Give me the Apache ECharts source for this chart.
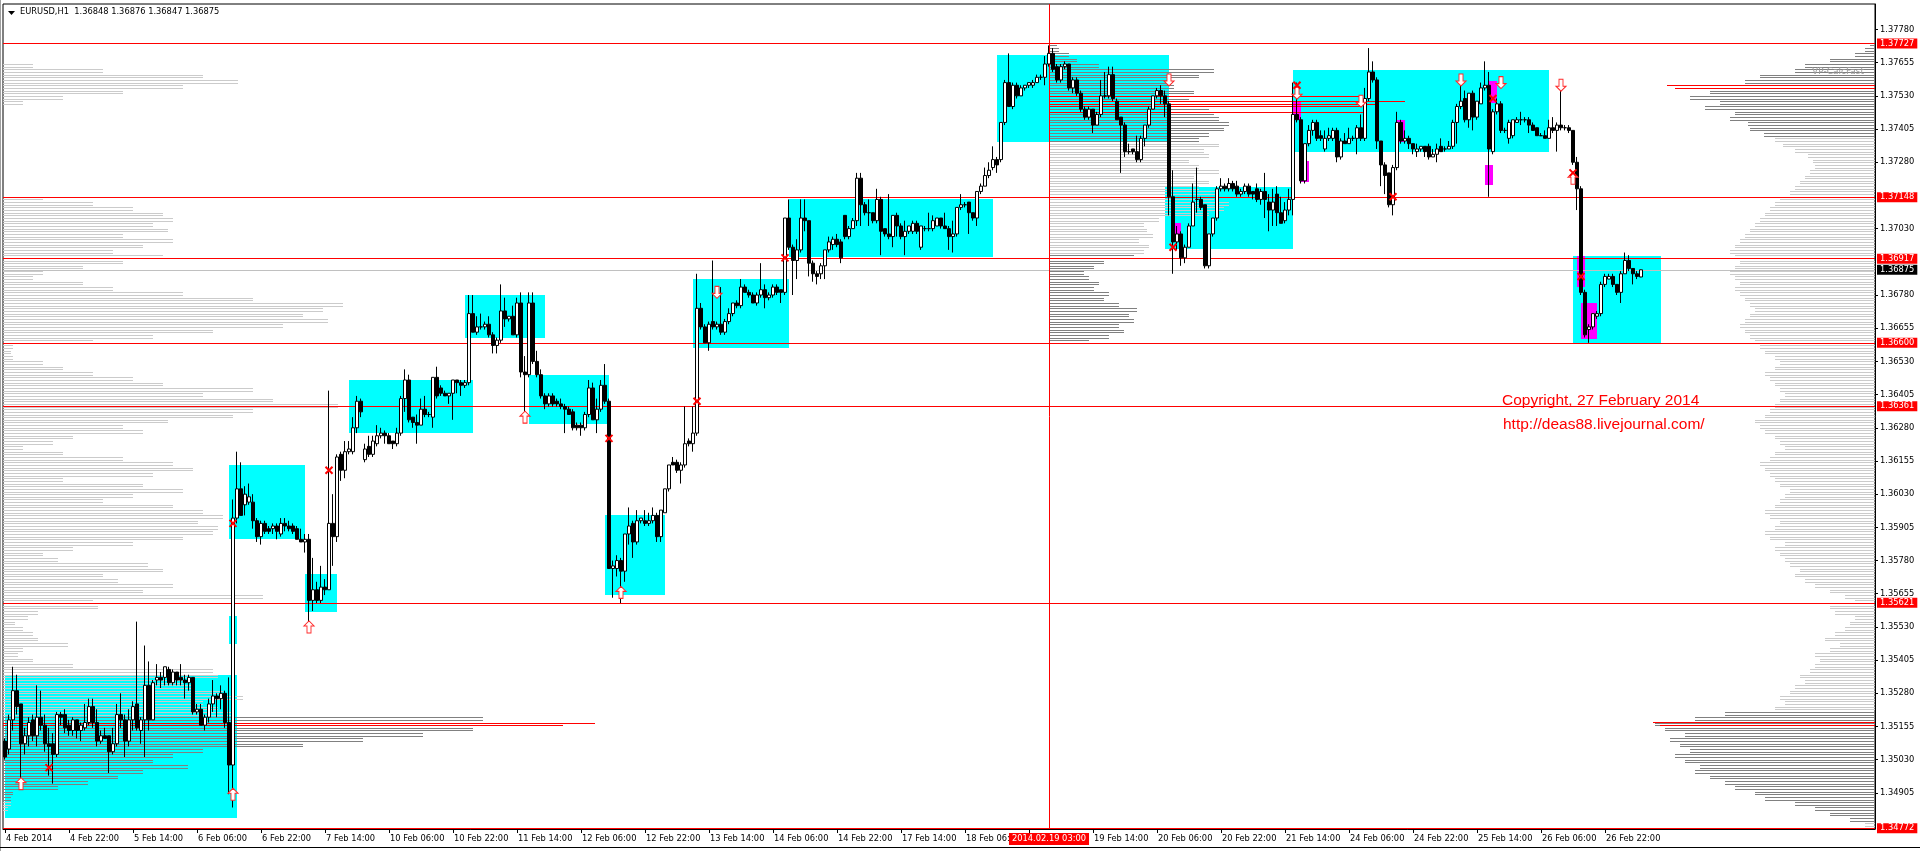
<!DOCTYPE html>
<html>
<head>
<meta charset="utf-8">
<title>EURUSD,H1</title>
<script src="https://cdn.jsdelivr.net/npm/echarts@6/dist/echarts.min.js"></script>
<style>
html,body{margin:0;padding:0;background:#fff;overflow:hidden}
#chart{width:1920px;height:851px}
</style>
</head>
<body>
<div id="chart"></div>
<script>
// ---- DATA (prices stored in pips above 1.30000) ----
const BASE = 1.3;
const PIP = 0.0001;

const barOpen = [
510,507,518,529,524,509,512,518,512,519, 516,509,509,505,520,520,516,514,518,514,
515,517,523,517,510,512,512,506,509,520, 518,510,518,524,514,518,531,518,533,534,
534,537,532,536,534,533,532,534,521,522, 516,519,524,527,526,528,517,501,594,605,
599,600,600,593,587,592,590,590,591,588, 592,591,591,590,586,585,586,563,567,563,
568,567,592,587,618,612,619,619,628,638, 616,621,618,622,625,626,625,623,622,626,
639,646,632,630,629,635,633,632,647,643, 641,640,641,646,645,644,645,671,664,666,
666,667,663,659,661,672,669,670,663,675, 649,648,675,653,648,640,637,640,638,637,
636,635,634,629,629,628,633,643,631,635, 644,638,575,575,578,574,588,592,585,593,
593,592,593,595,587,596,605,615,615,612, 614,623,622,626,673,666,660,668,666,667,
664,668,671,675,674,681,679,678,675,678, 680,677,678,681,680,679,707,696,691,695,
707,706,690,686,686,689,695,697,699,698, 708,700,703,706,722,712,709,709,706,714,
703,701,700,708,704,700,702,702,705,696, 703,703,703,704,707,704,703,700,701,711,
712,713,709,707,717,719,723,726,729,729, 743,758,749,757,753,756,757,757,758,760,
760,765,769,764,759,764,765,756,759,754, 748,745,748,742,746,753,753,761,751,745,
742,732,733,732,729,737,742,748,753,755, 753,750,715,698,701,692,696,704,714,714,
712,689,701,707,718,719,718,720,719,716, 717,719,717,718,714,717,713,710,716,709,
706,710,714,746,744,721,735,740,743,738, 733,737,737,740,730,736,735,737,737,741,
737,752,762,759,736,727,724,712,726,743, 736,737,735,732,733,734,734,730,731,734,
733,733,734,743,749,752,744,754,745,750, 756,757,732,747,750,740,737,738,743,744,
744,744,742,741,738,738,737,741,740,742, 741,741,740,728,718,679,665,666,670,671,
682,684,685,682,679,686,691,688,686,684.8];

const barHigh = [
511,520,538,535,524,515,519,520,531,529, 520,515,513,521,521,522,518,519,518,517,
524,526,526,522,514,515,512,515,524,528, 520,522,525,555,519,546,540,533,539,536,
538,538,537,536,539,535,535,534,524,524, 520,526,533,528,531,529,534,601,619,615,
606,607,603,594,593,593,591,592,592,594, 594,593,592,591,590,588,588,579,570,576,
571,642,603,618,619,623,623,632,640,639, 622,625,625,629,628,627,626,623,628,640,
650,648,632,633,639,640,634,647,651,644, 642,641,646,646,646,646,678,678,670,671,
668,670,664,662,682,677,670,674,677,679, 655,679,679,657,650,641,641,641,639,639,
637,636,635,630,630,634,646,645,639,646, 652,639,578,580,579,588,598,593,597,594,
597,596,598,596,597,605,614,617,616,615, 636,624,636,686,675,667,668,691,668,681,
669,673,675,676,684,682,680,679,679,690, 682,679,682,682,680,707,714,697,699,714,
714,706,691,687,690,695,700,700,701,699, 708,704,707,724,724,713,714,709,718,715,
703,716,708,709,705,706,704,706,706,704, 704,709,708,707,707,709,704,706,711,716,
713,713,709,717,720,726,728,734,730,743, 759,769,758,758,757,757,758,759,761,761,
768,772,771,765,765,766,765,760,760,755, 749,749,748,747,759,762,764,764,752,745,
743,735,733,738,738,742,749,753,756,757, 755,751,725,704,702,697,705,720,726,715,
712,701,707,719,722,720,722,721,721,718, 720,720,717,720,718,724,716,718,719,715,
713,718,758,758,745,735,742,744,744,740, 740,741,741,741,737,739,741,738,742,746,
756,771,766,760,736,728,724,727,747,744, 740,738,735,735,734,734,735,733,735,737,
734,736,744,750,760,755,754,755,751,758, 766,762,748,752,751,741,744,744,745,747,
745,745,743,741,739,740,744,745,743,757, 742,742,740,730,719,680,667,671,672,683,
686,686,686,682,687,694,693,688,687,687.6];

const barLow = [
503,505,514,520,493,505,508,510,508,514, 506,497,494,504,516,513,512,512,511,510,
514,516,515,508,509,511,498,505,508,515, 504,508,514,514,509,504,514,518,531,530,
531,531,531,531,531,526,529,520,520,516, 514,517,521,519,522,515,490,485,592,595,
595,599,590,585,584,588,588,588,586,587, 589,589,588,586,585,581,553,559,562,562,
565,567,576,585,608,609,618,618,626,632, 615,617,617,621,624,622,622,620,621,625,
634,630,628,622,629,632,632,628,639,640, 640,637,631,641,640,643,644,664,663,665,
665,662,656,656,660,666,668,663,662,647, 630,647,652,647,639,635,636,636,636,635,
626,633,627,627,625,627,632,631,626,634, 637,575,564,572,562,570,584,579,584,592,
591,591,592,585,585,596,604,614,611,607, 613,621,619,625,665,660,657,665,665,663,
663,667,670,673,673,679,677,675,674,677, 673,676,677,678,675,678,695,678,684,694,
702,685,683,682,684,684,694,695,696,690, 699,699,703,704,704,708,704,705,705,693,
700,699,696,700,699,693,701,701,701,695, 702,702,702,704,703,703,695,694,700,710,
711,701,706,704,716,719,722,725,724,728, 742,749,748,752,753,755,756,756,758,759,
757,764,762,758,758,763,755,754,753,747, 744,744,739,742,745,752,752,751,744,724,
730,731,731,728,728,734,741,748,752,750, 745,708,686,695,689,690,696,704,709,710,
688,688,700,706,717,717,717,717,715,715, 716,715,714,713,712,707,702,704,704,705,
705,708,708,743,720,720,734,738,736,736, 732,736,736,728,729,735,735,736,731,736,
736,751,758,733,719,716,711,708,725,735, 735,733,731,730,732,730,729,730,728,732,
732,733,733,735,748,743,741,740,744,750, 755,715,731,746,739,739,735,737,743,742,
743,739,740,738,738,737,737,739,732,740, 740,739,727,710,678,662,660,665,669,670,
681,684,681,678,675,686,687,682,684,684.7];

const barClose = [
504,518,529,523,509,512,517,512,519,516, 509,508,505,520,519,515,514,518,514,516,
517,523,517,510,512,511,506,509,520,518, 510,518,523,515,518,531,518,532,534,533,
538,532,536,533,533,532,534,521,522,516, 519,524,527,526,528,517,501,594,605,595,
603,602,593,587,592,589,589,591,589,592, 591,590,589,586,585,586,563,567,563,568,
567,592,587,617,612,619,620,628,638,634, 620,618,623,625,626,625,622,622,626,639,
646,631,630,629,635,633,633,647,640,641, 640,641,646,645,644,645,671,664,666,666,
667,663,659,661,672,669,670,663,675,649, 648,675,653,648,640,637,640,637,637,636,
635,633,628,628,628,633,643,631,635,644, 638,575,576,578,574,588,591,585,593,594,
592,593,595,587,597,605,614,614,612,614, 622,622,626,673,666,660,667,666,667,664,
668,671,675,674,681,679,678,675,678,680, 677,678,681,679,679,707,696,691,695,707,
706,690,686,685,689,695,698,699,697,692, 700,703,706,722,712,709,709,706,714,702,
701,700,708,704,700,702,704,705,702,704, 703,703,706,707,704,703,700,701,711,712,
712,709,707,717,719,723,725,729,727,743, 758,749,757,753,756,757,758,758,760,760,
765,769,763,759,764,765,756,759,754,748, 745,748,742,746,753,753,761,752,744,742,
732,732,732,729,737,742,748,753,755,753, 750,715,698,701,692,696,704,713,714,711,
689,701,707,718,719,718,720,718,716,717, 719,716,716,714,717,714,710,713,709,705,
710,714,746,744,721,735,740,743,737,737, 737,738,740,730,736,735,737,737,741,737,
752,762,759,736,727,723,712,726,743,736, 737,735,733,733,734,732,730,731,733,732,
733,734,743,749,751,744,754,745,751,756, 757,733,747,750,740,740,743,744,744,744,
744,742,740,738,738,737,741,740,742,741, 741,740,728,718,679,663,666,671,671,682,
685,685,682,679,686,691,688,686,685,687.5];

// x-axis tick labels, one every 16 bars
const xTickLabels = ['4 Feb 2014','4 Feb 22:00','5 Feb 14:00','6 Feb 06:00','6 Feb 22:00','7 Feb 14:00',
  '10 Feb 06:00','10 Feb 22:00','11 Feb 14:00','12 Feb 06:00','12 Feb 22:00','13 Feb 14:00','14 Feb 06:00',
  '14 Feb 22:00','17 Feb 14:00','18 Feb 06:00','18 Feb 22:00','19 Feb 14:00','20 Feb 06:00','20 Feb 22:00',
  '21 Feb 14:00','24 Feb 06:00','24 Feb 22:00','25 Feb 14:00','26 Feb 06:00','26 Feb 22:00'];
const X_LABEL_EVERY = 16;

// y-axis tick values
const yTicks = [1.34905,1.35030,1.35155,1.35280,1.35405,1.35530,1.35655,1.35780,1.35905,1.36030,1.36155,
  1.36280,1.36405,1.36530,1.36655,1.36780,1.37030,1.37280,1.37405,1.37530,1.37655,1.37780];
const Y_MIN = 1.34769, Y_MAX = 1.37876;

// horizontal level lines (red, labelled on the price axis)
const levelPrices = [1.37727, 1.37148, 1.36917, 1.36600, 1.36361, 1.35621, 1.34772];
const bidPrice = 1.36875;
const crosshairIndex = 261;
const crosshairTime = '2014.02.19 03:00';

// rectangles [startBar, endBar, lowPip, highPip]
const cyanBoxes = [[0,58,481,535],[56,58,546.5,557],[56,75,586,614],[75,83,558.6,573],[86,117,626,646],
  [115,135,662,678],[131,151,629.5,648],[150,165,565,595],[172,196,658,684],[196,247,692.4,714.2],
  [248,291,735.7,768.4],[290,322,695.3,718.8],[322,386,732,762.7],[392,414,659.8,692.7]];
const magentaBoxes = [[292,294,701,705],[322,324,744,751],[324,326,720.7,728.5],[348,350,735.7,744],
  [371,373,750.4,758.7],[370,372,719.4,727],[393,395,681,692.7],[394,398,661.4,675]];

// signal markers [bar, pip]
const upArrows = [[4,494],[57,490],[76,553],[130,632],[154,566],[392,722]];
const downArrows = [[178,679],[291,759],[323,754],[339,751],[364,759],[374,758],[389,757]];
const crossMarks = [[11,500],[57,592],[81,612],[151,624],[173,638],[195,692],[292,696],[323,757],[347,715],[372,752],[392,724],[394,685]];

// volume profiles: bins of 2 pips starting at *Start
const PROFILE_STEP = 2;
const leftProfileStart = 482;
const leftProfile = [0,5,8,8,10,55,85,115,140,185, 150,170,200,300,360,420,470,540,480,230,
  215,200,240,220,190,180,215,210,70,30, 15,20,65,35,30,20,12,25,35,95,
  90,260,140,170,115,100,160,145,55,40, 70,130,180,210,215,195,220,200,170,100,
  130,180,140,60,150,190,170,120,60,20, 50,70,140,120,165,230,250,335,270,200,
  250,160,130,90,60,40,10,8,10,90, 150,210,280,325,300,320,340,250,180,110,
  80,30,40,80,120,160,110,140,170,120, 165,150,170,160,130,90,40,0,0,0,
  0,0,0,0,0,0,0,0,0,0, 0,0,0,0,20,60,120,180,235,200, 100,30];
const leftProfileDark = [[488,519]];

const rightProfileStart = 476;
const rightProfile = [5,10,25,45,60,80,110,120,140,150, 165,180,175,190,200,185,195,205,190,210,
  220,180,150,100,90,95,85,80,70,75, 65,60,55,60,45,35,50,40,30,25,
  20,40,45,20,30,45,60,70,80,75, 85,90,95,100,90,105,110,100,95,105,
  110,100,95,90,85,95,100,105,110,115, 105,100,90,95,100,110,115,120,110,105,
  100,95,90,95,100,105,110,100,95,100, 110,115,120,125,130,135,130,125,120,125,
  130,135,140,135,140,145,140,135,140,145, 140,135,130,125,120,115,110,105,100,95,
  85,80,75,70,65,60,62,67,80,92, 100,111,125,127,145,140,170,155,185,165,
  190,130,115,80,70,45,20,10,5];
const rightProfileDark = [[480,521],[737,773]];

const midProfileStart = 660;
const midProfile = [40,60,75,70,85,80,88,70,55,60, 45,50,40,35,45,55,85,95,100,90,
  104,98,95,110,160,175,180,165,170,150, 160,145,170,150,140,160,155,170,150,160,
  175,180,170,165,160,150,140,145,125,120, 150,165,50,28,20,10,8];
const midProfileDark = [[660,692],[736,773]];

// profile POC lines [pip, length]
const leftPocLines = [[517,592],[516,560]];
const rightPocLines = [[757.1,208],[755.9,200],[517.3,222],[516.1,215]];
const midPocLines = [[752.9,311],[751.1,356],[749.9,326],[749.2,313],[747.0,314]];

// ---- CHART ----
const N_SLOTS = 468;           // bars + empty chart shift on the right
const FONT = 'DejaVu Sans';
const toPrice = p => +(BASE + p * PIP).toFixed(5);
const nBars = barOpen.length;
const cats = Array.from({length: N_SLOTS}, (_, i) => String(i));
const candleData = barOpen.map((o, i) => [toPrice(o), toPrice(barClose[i]), toPrice(barLow[i]), toPrice(barHigh[i])]);

function inRanges(p, ranges) { return ranges.some(r => p >= r[0] && p <= r[1]); }

function profileSeries(id, start, lens, anchor, dir, dark, z) {
  return {
    type: 'custom', id, z, silent: true, clip: true, animation: false,
    data: lens.map((len, k) => [0, toPrice(start + k * PROFILE_STEP), len, start + k * PROFILE_STEP]),
    encode: {x: 0, y: 1},
    renderItem(params, api) {
      const len = api.value(2);
      if (!len) return null;
      const p = api.value(3);
      const cs = params.coordSys;
      const x0 = anchor === 'left' ? cs.x : anchor === 'right' ? cs.x + cs.width : api.coord([anchor, 0])[0];
      const stroke = inRanges(p, dark) ? '#808080' : '#cbcbcb';
      const children = [];
      for (let k = 0; k < PROFILE_STEP; k++) {
        const y = Math.round(api.coord([0, toPrice(p + k)])[1]) + 0.5;
        children.push({type: 'line', shape: {x1: x0, y1: y, x2: x0 + dir * len, y2: y},
          style: {stroke, lineWidth: 1}});
      }
      return {type: 'group', children};
    }
  };
}

function pocSeries(id, lines, anchor, dir, z) {
  return {
    type: 'custom', id, z, silent: true, clip: true, animation: false,
    data: lines.map(l => [0, toPrice(l[0]), l[1]]),
    encode: {x: 0, y: 1},
    renderItem(params, api) {
      const cs = params.coordSys;
      const x0 = anchor === 'left' ? cs.x : anchor === 'right' ? cs.x + cs.width : api.coord([anchor, 0])[0];
      const y = Math.round(api.coord([0, api.value(1)])[1]) + 0.5;
      return {type: 'line', shape: {x1: x0, y1: y, x2: x0 + dir * api.value(2), y2: y},
        style: {stroke: '#ff0000', lineWidth: 1}};
    }
  };
}

function boxSeries(id, boxes, color, z) {
  return {
    type: 'custom', id, z, silent: true, clip: true, animation: false,
    data: boxes.map(b => [b[0], toPrice(b[3]), b[1], toPrice(b[2])]),
    encode: {x: [0, 2], y: [1, 3]},
    renderItem(params, api) {
      const a = api.coord([api.value(0), api.value(1)]);
      const b = api.coord([api.value(2), api.value(3)]);
      const x = Math.round(a[0]), y = Math.round(a[1]);
      return {type: 'rect', shape: {x, y, width: Math.round(b[0]) - x, height: Math.round(b[1]) - y},
        style: {fill: color}};
    }
  };
}

const priceLabel = (bg) => ({
  show: true, position: 'end', distance: 2, color: '#fff', backgroundColor: bg,
  fontFamily: FONT, fontSize: 8.3, lineHeight: 9, padding: [1, 3, 0, 3],
  formatter: p => Number(p.value).toFixed(5)
});

const markLineData = levelPrices.map(v => ({
  yAxis: v, lineStyle: {color: '#ff0000', width: 1, type: 'solid'}, label: priceLabel('#ff0000')
}));
markLineData.push({yAxis: bidPrice, lineStyle: {color: '#c0c0c0', width: 1, type: 'solid'}, label: priceLabel('#000000')});
markLineData.push({xAxis: String(crosshairIndex), lineStyle: {color: '#ff0000', width: 1, type: 'solid'},
  label: {show: true, position: 'start', distance: 4, color: '#fff', backgroundColor: '#ff0000',
    fontFamily: FONT, fontSize: 8.3, lineHeight: 10, padding: [1, 3, 1, 3], formatter: crosshairTime}});

const UP = 'path://M5,0L10,5L7,5L7,12L3,12L3,5L0,5Z';
const DOWN = 'path://M3,0L7,0L7,7L10,7L5,12L0,7L3,7Z';
const CROSS = 'path://M0,0L7,7M7,0L0,7';

const isLabelIdx = i => i % X_LABEL_EVERY === 0 && i < nBars;
const last = nBars - 1;
const titleText = 'EURUSD,H1  ' + [barOpen[last], barHigh[last], barLow[last], barClose[last]].map(v => toPrice(v).toFixed(5)).join(' ');

const chart = echarts.init(document.getElementById('chart'), null, {renderer: 'canvas'});
chart.setOption({
  animation: false,
  backgroundColor: '#ffffff',
  grid: {left: 3, top: 4, width: 1872, height: 825, show: true, borderColor: '#000', borderWidth: 1, backgroundColor: '#fff'},
  xAxis: {
    type: 'category', data: cats, boundaryGap: true,
    axisLine: {show: true, lineStyle: {color: '#000', width: 1}},
    axisTick: {show: true, alignWithLabel: true, interval: (i) => isLabelIdx(i), length: 4, lineStyle: {color: '#000'}},
    axisLabel: {show: true, interval: (i) => isLabelIdx(i), formatter: (v, i) => xTickLabels[i / X_LABEL_EVERY] || '',
      align: 'left', color: '#000', fontFamily: FONT, fontSize: 8.3, margin: 6, padding: [0, 0, 0, 1]},
    splitLine: {show: false}
  },
  yAxis: {
    type: 'value', position: 'right', min: Y_MIN, max: Y_MAX,
    axisLine: {show: true, lineStyle: {color: '#000', width: 1}},
    axisTick: {show: true, length: 3, customValues: yTicks, lineStyle: {color: '#000'}},
    axisLabel: {show: true, customValues: yTicks, formatter: v => v.toFixed(5), color: '#000', fontFamily: FONT, fontSize: 8.3, margin: 5},
    splitLine: {show: false}
  },
  graphic: [
    {type: 'polygon', shape: {points: [[8, 11], [15, 11], [11.5, 15]]}, style: {fill: '#000'}, z: 100},
    {type: 'text', left: 20, top: 8, style: {text: titleText, font: '8.3px "DejaVu Sans"', fill: '#000'}, z: 100},
    {type: 'text', left: 1812, top: 67, style: {text: 'VP-CalcFast', font: '9px "DejaVu Sans"', fill: '#9a9a9a'}, z: 100},
    {type: 'text', left: 1502, top: 393, style: {text: 'Copyright, 27 February 2014', font: '15.5px "Liberation Sans"', fill: '#ff0000'}, z: 100},
    {type: 'text', left: 1503, top: 417, style: {text: 'http://deas88.livejournal.com/', font: '15.5px "Liberation Sans"', fill: '#ff0000'}, z: 100},
    {type: 'line', shape: {x1: 0.5, y1: 0, x2: 0.5, y2: 851}, style: {stroke: '#a0a0a0', lineWidth: 1}, z: 100},
    {type: 'line', shape: {x1: 0, y1: 847.5, x2: 1920, y2: 847.5}, style: {stroke: '#000', lineWidth: 1}, z: 100}
  ],
  series: [
    boxSeries('cyan', cyanBoxes, '#00ffff', 1),
    boxSeries('magenta', magentaBoxes, '#ff00ff', 1.5),
    profileSeries('vpLeft', leftProfileStart, leftProfile, 'left', 1, leftProfileDark, 2),
    profileSeries('vpRight', rightProfileStart, rightProfile, 'right', -1, rightProfileDark, 2),
    profileSeries('vpMid', midProfileStart, midProfile, crosshairIndex, 1, midProfileDark, 2),
    pocSeries('pocLeft', leftPocLines, 'left', 1, 3),
    pocSeries('pocRight', rightPocLines, 'right', -1, 3),
    pocSeries('pocMid', midPocLines, crosshairIndex, 1, 3),
    {type: 'line', id: 'levels', data: [], z: 3, silent: true,
      markLine: {silent: true, precision: 5, symbol: ['none', 'none'], animation: false, data: markLineData}},
    {type: 'candlestick', id: 'price', data: candleData, z: 5, barWidth: 3,
      itemStyle: {color: '#ffffff', color0: '#000000', borderColor: '#000000', borderColor0: '#000000', borderColorDoji: '#000000', borderWidth: 1}},
    {type: 'scatter', id: 'up', z: 6, silent: true, symbol: UP, symbolSize: [10, 12],
      data: upArrows.map(a => [a[0], toPrice(a[1])]), itemStyle: {color: '#ffffff', borderColor: '#ff2a2a', borderWidth: 1, opacity: 1}},
    {type: 'scatter', id: 'down', z: 6, silent: true, symbol: DOWN, symbolSize: [10, 12],
      data: downArrows.map(a => [a[0], toPrice(a[1])]), itemStyle: {color: '#ffffff', borderColor: '#ff2a2a', borderWidth: 1, opacity: 1}},
    {type: 'scatter', id: 'cross', z: 6, silent: true, symbol: CROSS, symbolSize: 7,
      data: crossMarks.map(a => [a[0], toPrice(a[1])]), itemStyle: {color: 'rgba(0,0,0,0)', borderColor: '#ff0000', borderWidth: 2, opacity: 1}}
  ]
});
</script>
</body>
</html>
